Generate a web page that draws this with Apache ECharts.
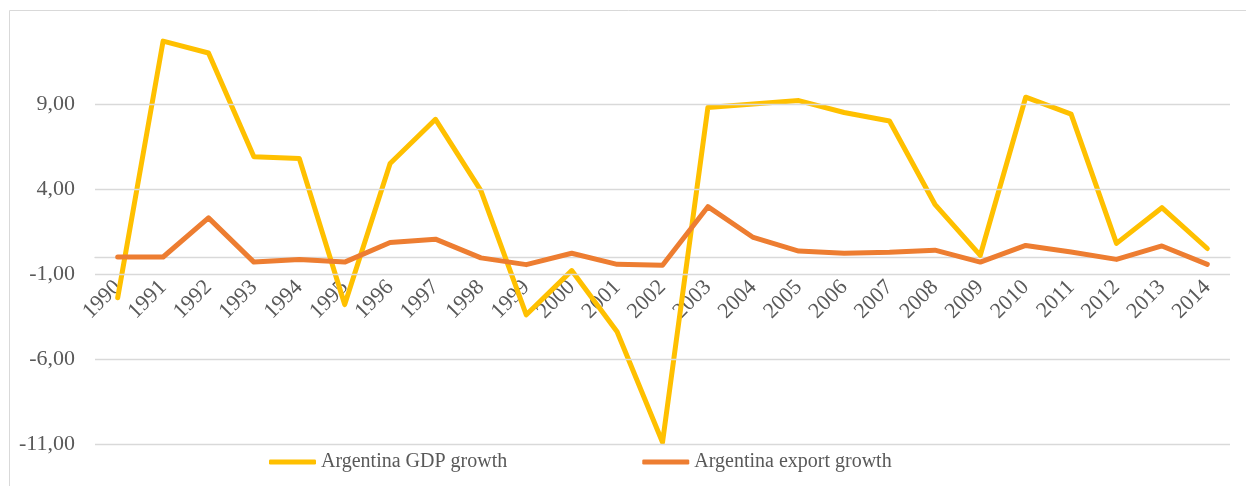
<!DOCTYPE html>
<html>
<head>
<meta charset="utf-8">
<script src="https://cdn.jsdelivr.net/npm/echarts@6/dist/echarts.min.js"></script>
<style>
  html, body { margin: 0; padding: 0; background: #fff; }
  #chart { width: 1246px; height: 486px; }
</style>
</head>
<body>
<div id="chart"></div>
<script>
// data
const years = ['1990', '1991', '1992', '1993', '1994', '1995', '1996', '1997', '1998', '1999',
  '2000', '2001', '2002', '2003', '2004', '2005', '2006', '2007', '2008', '2009',
  '2010', '2011', '2012', '2013', '2014'];
const gdpGrowth = [-2.4, 12.7, 12.0, 5.9, 5.8, -2.8, 5.5, 8.1, 3.9, -3.4,
  -0.8, -4.4, -10.9, 8.8, 9.0, 9.2, 8.5, 8.0, 3.1, 0.1,
  9.4, 8.4, 0.8, 2.9, 0.5];
const exportGrowth = [0.0, 0.0, 2.3, -0.3, -0.15, -0.3, 0.85, 1.05, -0.05, -0.45,
  0.22, -0.43, -0.48, 2.96, 1.15, 0.35, 0.22, 0.28, 0.4, -0.3,
  0.68, 0.3, -0.14, 0.65, -0.43];
const yTicks = [-11, -6, -1, 4, 9];
const yMin = -11;
const yMax = 14.5;

const chart = echarts.init(document.getElementById('chart'));

const serif = '"Liberation Serif", "Times New Roman", serif';
const grey = '#595959';

const option = {
  animation: false,
  graphic: [{
    type: 'rect',
    shape: { x: 9.5, y: 10.5, width: 1240, height: 480 },
    style: { fill: 'none', stroke: '#d9d9d9', lineWidth: 1 },
    silent: true,
  }],
  grid: { left: 95, right: 16, top: 10.5, bottom: 42, outerBoundsMode: 'none' },
  legend: {
    data: ['Argentina GDP growth', 'Argentina export growth'],
    left: 264,
    top: 447,
    icon: 'roundRect',
    itemWidth: 47,
    itemHeight: 5,
    itemGap: 135,
    textStyle: { fontFamily: serif, fontSize: 20, color: grey },
  },
  xAxis: {
    type: 'category',
    data: years,
    boundaryGap: true,
    axisLine: { onZero: false, lineStyle: { color: '#d9d9d9', width: 1.3 } },
    axisTick: { show: false },
    axisLabel: { rotate: 45, interval: 0, margin: 27, fontFamily: serif, fontSize: 22, color: grey },
  },
  yAxis: {
    type: 'value',
    min: yMin,
    max: yMax,
    interval: 5,
    splitLine: { show: false },
    axisLine: { show: false },
    axisTick: { show: false },
    axisLabel: {
      margin: 20,
      fontFamily: serif,
      fontSize: 22,
      color: grey,
      formatter: (v) => (yTicks.includes(v) ? v.toFixed(2).replace('.', ',') : ''),
    },
  },
  series: [
    {
      name: 'grid',
      type: 'line',
      data: [],
      z: 0,
      silent: true,
      markLine: {
        silent: true,
        symbol: 'none',
        label: { show: false },
        lineStyle: { color: '#d9d9d9', width: 1.3, type: 'solid' },
        data: yTicks.map((t) => ({ yAxis: t })),
      },
    },
    {
      name: 'Argentina GDP growth',
      type: 'line',
      data: gdpGrowth,
      symbol: 'none',
      color: '#FFC000',
      lineStyle: { width: 5, cap: 'round', join: 'round' },
      z: 2,
    },
    {
      name: 'Argentina export growth',
      type: 'line',
      data: exportGrowth,
      symbol: 'none',
      color: '#ED7D31',
      lineStyle: { width: 5, cap: 'round', join: 'round' },
      z: 3,
    },
  ],
};

chart.setOption(option);

// move the category axis (line + labels) up to the zero line, like Excel does
const zeroY = chart.convertToPixel({ yAxisIndex: 0 }, 0);
const bottomY = chart.convertToPixel({ yAxisIndex: 0 }, yMin);
chart.setOption({ xAxis: { offset: zeroY - bottomY } });
</script>
</body>
</html>
